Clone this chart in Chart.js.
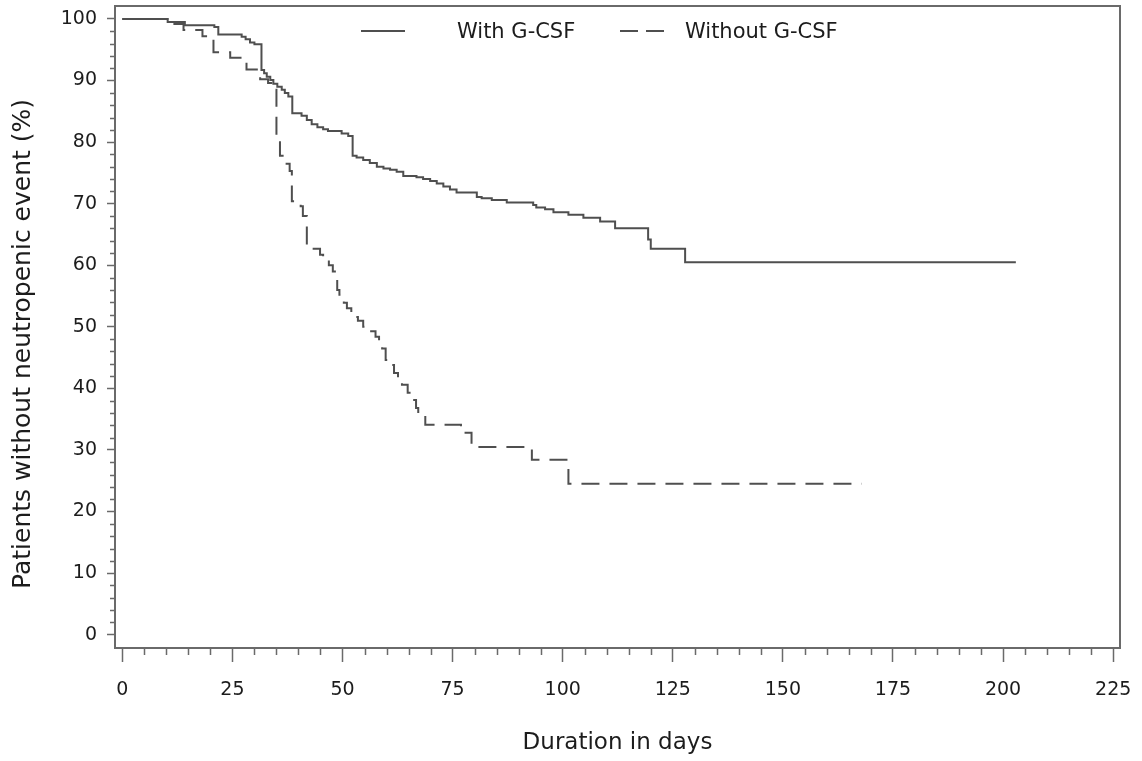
<!DOCTYPE html>
<html>
<head>
<meta charset="utf-8">
<script src="https://cdn.jsdelivr.net/npm/chart.js@4.4.1/dist/chart.umd.min.js"></script>
<style>
  html, body { margin: 0; padding: 0; background: #ffffff; }
  #wrap { width: 1142px; height: 761px; position: relative; }
</style>
</head>
<body>
<div id="wrap"><canvas id="c"></canvas></div>
<script>
// ---- data (Kaplan-Meier step curves: event time in days, survival % after event) ----
const seriesLabels = ['With G-CSF', 'Without G-CSF'];

const withTimes = [0, 10.3, 14.2, 20.9, 21.8, 27.1, 28.0, 29.0, 30.0, 31.6, 32.2, 32.8, 33.6, 34.3, 35.2, 36.2, 36.9, 37.7, 38.6,
  40.7, 41.9, 43.0, 44.3, 45.6, 46.7, 49.8, 51.3, 52.3, 53.2, 54.7, 56.2, 57.8, 59.3, 60.8, 62.3, 63.8, 66.8, 68.3, 69.9,
  71.4, 72.9, 74.4, 75.9, 80.5, 81.6, 83.9, 87.3, 93.3, 94.0, 96.0, 97.9, 101.3, 104.7, 108.5, 111.9, 119.4, 120.0, 127.8, 202.9];
const withSurv = [100, 99.5, 99.0, 98.7, 97.5, 97.1, 96.7, 96.2, 95.9, 91.7, 91.2, 90.6, 90.1, 89.5, 89.0, 88.5, 88.0, 87.4, 84.7,
  84.3, 83.6, 82.9, 82.4, 82.1, 81.8, 81.4, 81.0, 77.8, 77.5, 77.1, 76.6, 76.0, 75.7, 75.5, 75.2, 74.5, 74.3, 74.0, 73.7,
  73.3, 72.8, 72.3, 71.8, 71.1, 70.9, 70.6, 70.2, 69.8, 69.4, 69.1, 68.6, 68.2, 67.7, 67.1, 66.0, 64.2, 62.7, 60.5, 60.5];

const withoutTimes = [0, 10.8, 13.9, 18.2, 20.7, 24.5, 28.2, 31.3, 33.1, 34.7, 35.0, 35.8, 36.8, 38.0, 38.5, 40.5, 41.0, 41.9,
  44.9, 45.6, 46.9, 47.8, 48.8, 49.3, 50.3, 51.0, 52.0, 52.8, 53.5, 54.7, 56.0, 57.5, 58.3, 59.0, 59.8, 61.0, 61.7, 62.6,
  63.5, 64.8, 65.5, 66.7, 67.2, 68.8, 76.9, 79.3, 93.0, 101.3, 167.9];
const withoutSurv = [100, 99.2, 98.2, 97.2, 94.6, 93.7, 91.8, 90.2, 89.6, 88.5, 80.3, 77.8, 76.5, 75.3, 70.4, 69.6, 68.0, 62.7,
  61.7, 60.8, 60.0, 59.0, 56.0, 55.2, 53.9, 53.0, 52.2, 51.6, 51.0, 50.0, 49.3, 48.4, 47.3, 46.5, 44.6, 43.8, 42.5, 41.4,
  40.6, 39.3, 38.1, 36.8, 35.7, 34.1, 32.8, 30.5, 28.4, 24.5, 24.5];

const xTicks = [0, 25, 50, 75, 100, 125, 150, 175, 200, 225];
const yTicks = [0, 10, 20, 30, 40, 50, 60, 70, 80, 90, 100];
const xMinorStep = 5;
const yMinorStep = 2;

const xTitle = 'Duration in days';
const yTitle = 'Patients without neutropenic event (%)';

// ---- helpers ----
function stepPoints(times, surv) {
  const pts = [{ x: times[0], y: surv[0] }];
  for (let i = 1; i < times.length; i++) {
    pts.push({ x: times[i], y: surv[i - 1] });
    if (surv[i] !== surv[i - 1]) pts.push({ x: times[i], y: surv[i] });
  }
  return pts;
}

function zeroPad(s) {
  s.paddingTop = 0; s.paddingBottom = 0; s.paddingLeft = 0; s.paddingRight = 0;
}

const FONT = 'DejaVu Sans';
const INK = '#1c1c1c';
const LINE = '#4f4f4f';
const FRAME = '#6a6a6a';

const framePlugin = {
  id: 'frameAndMinor',
  afterDraw(chart) {
    const { ctx, chartArea: a, scales } = chart;
    ctx.save();
    // frame
    ctx.strokeStyle = FRAME;
    ctx.lineWidth = 2;
    ctx.setLineDash([]);
    ctx.strokeRect(a.left, a.top, a.right - a.left, a.bottom - a.top);
    // minor ticks
    ctx.lineWidth = 1.5;
    ctx.beginPath();
    const xs = scales.x, ys = scales.y;
    for (let v = xTicks[0]; v <= xTicks[xTicks.length - 1]; v += xMinorStep) {
      if (xTicks.includes(v)) continue;
      const px = Math.round(xs.getPixelForValue(v)) + 0.5;
      ctx.moveTo(px, a.bottom);
      ctx.lineTo(px, a.bottom + 7);
    }
    for (let v = yTicks[0]; v <= yTicks[yTicks.length - 1]; v += yMinorStep) {
      if (yTicks.includes(v)) continue;
      const py = Math.round(ys.getPixelForValue(v)) + 0.5;
      ctx.moveTo(a.left - 5, py);
      ctx.lineTo(a.left, py);
    }
    ctx.stroke();
    // y axis title
    ctx.fillStyle = INK;
    ctx.font = '25px "' + FONT + '"';
    ctx.textAlign = 'center';
    ctx.textBaseline = 'middle';
    ctx.save();
    ctx.translate(23, 344);
    ctx.rotate(-Math.PI / 2);
    ctx.fillText(yTitle, 0, 0);
    ctx.restore();
    // legend
    const items = [
      { x1: 361, x2: 405, tx: 457 },
      { x1: 620, x2: 665, tx: 685 }
    ];
    chart.data.datasets.forEach((ds, i) => {
      const it = items[i];
      ctx.strokeStyle = ds.borderColor;
      ctx.lineWidth = ds.borderWidth;
      ctx.setLineDash(i === 1 ? [18, 8] : []);
      ctx.beginPath();
      ctx.moveTo(it.x1, 31);
      ctx.lineTo(it.x2, 31);
      ctx.stroke();
      ctx.setLineDash([]);
      ctx.fillStyle = INK;
      ctx.font = '21px "' + FONT + '"';
      ctx.textBaseline = 'middle';
      ctx.textAlign = 'left';
      ctx.fillText(ds.label, it.tx, 33);
    });
    ctx.restore();
  }
};

new Chart(document.getElementById('c'), {
  type: 'line',
  data: {
    datasets: [
      {
        label: seriesLabels[0],
        data: stepPoints(withTimes, withSurv),
        borderColor: LINE,
        borderWidth: 2,
        pointRadius: 0,
        fill: false,
        tension: 0
      },
      {
        label: seriesLabels[1],
        data: stepPoints(withoutTimes, withoutSurv),
        borderColor: LINE,
        borderWidth: 2,
        borderDash: [18, 10],
        pointRadius: 0,
        fill: false,
        tension: 0
      }
    ]
  },
  options: {
    responsive: true,
    maintainAspectRatio: false,
    animation: false,
    devicePixelRatio: 1,
    layout: { autoPadding: false, padding: { left: 0, right: 22, top: 6, bottom: 0 } },
    plugins: { legend: { display: false }, tooltip: { enabled: false } },
    scales: {
      x: {
        type: 'linear',
        min: -1.66,
        max: 226.55,
        border: { display: false },
        grid: { display: true, drawOnChartArea: false, drawTicks: true, tickLength: 14, tickColor: FRAME, tickWidth: 1.5 },
        afterBuildTicks: s => { s.ticks = xTicks.map(v => ({ value: v })); },
        afterFit: s => { s.height = 113; zeroPad(s); },
        ticks: { font: { family: FONT, size: 19 }, color: INK, padding: 17, maxRotation: 0, autoSkip: false },
        title: { display: true, text: xTitle, font: { family: FONT, size: 23 }, color: INK, padding: { top: 0, bottom: 4 } }
      },
      y: {
        type: 'linear',
        min: -2.16,
        max: 102.11,
        border: { display: false },
        grid: { display: true, drawOnChartArea: false, drawTicks: true, tickLength: 8, tickColor: FRAME, tickWidth: 1.5 },
        afterBuildTicks: s => { s.ticks = yTicks.map(v => ({ value: v })); },
        afterFit: s => { s.width = 115; zeroPad(s); },
        ticks: { font: { family: FONT, size: 19 }, color: INK, padding: 10, autoSkip: false },
        title: { display: false, text: yTitle }
      }
    }
  },
  plugins: [framePlugin]
});
</script>
</body>
</html>
